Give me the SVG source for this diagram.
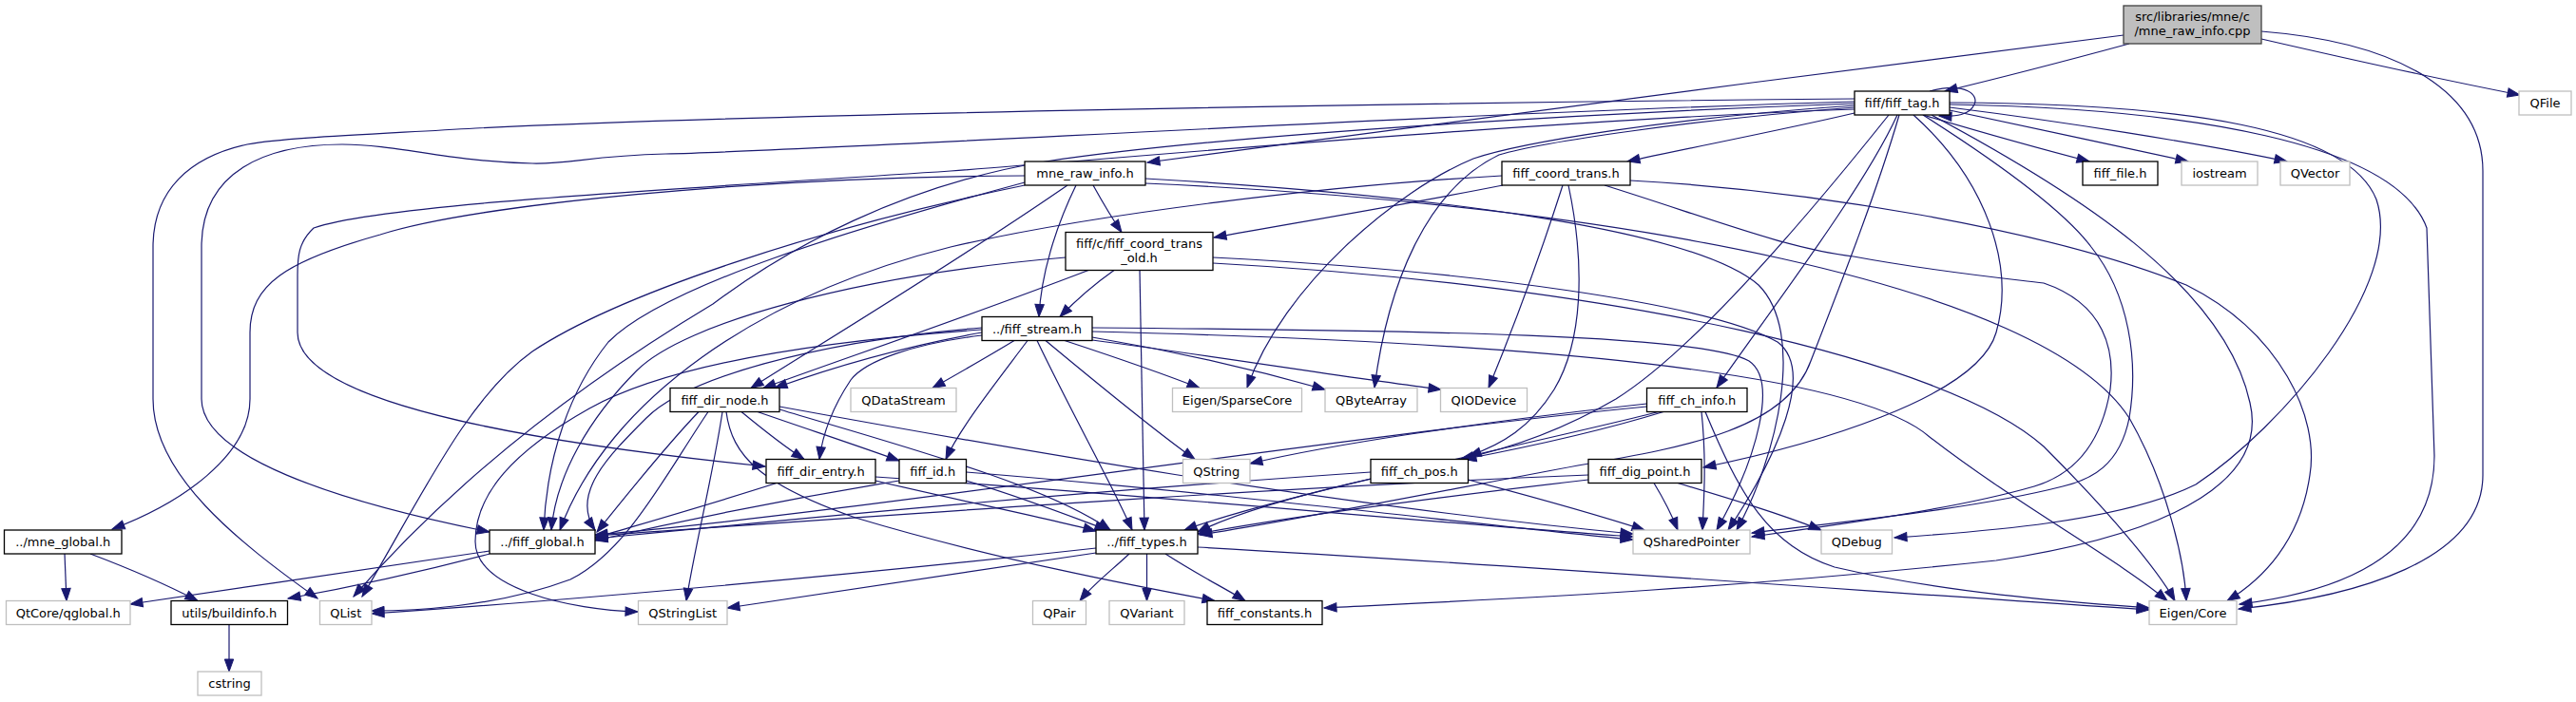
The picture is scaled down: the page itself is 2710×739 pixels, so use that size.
<svg xmlns="http://www.w3.org/2000/svg" width="2710" height="739" viewBox="0 0 2710 739">
<style>
rect{stroke-width:1.3}
.d rect{fill:#fff;stroke:#000}
.x rect{fill:#fff;stroke:#bfbfbf}
.r rect{fill:#bfbfbf;stroke:#404040}
text{font-family:"DejaVu Sans","Liberation Sans",sans-serif;font-size:13px;text-anchor:middle;fill:#000}
#edges path{fill:none;stroke:#191970;stroke-width:1.2;marker-end:url(#a)}
</style>
<defs>
<marker id="a" markerUnits="userSpaceOnUse" markerWidth="15" markerHeight="11" refX="13" refY="5" orient="auto" overflow="visible">
<path d="M0,0.3 L13,5 L0,9.7 z" fill="#191970" stroke="#191970" stroke-width="1"/>
</marker>
</defs>
<rect width="2710" height="739" fill="#fff"/>
<g id="edges">
<path d="M2234,37 C1900,78 1450,140 1207,171"/>
<path d="M2240,46 C2170,65 2100,83 2046,96"/>
<path d="M2379,41 C2470,62 2570,84 2651,100"/>
<path d="M2379,33 C2530,45 2612,100 2612,180 L2612,500 C2612,590 2480,628 2355,641"/>
<path d="M2030,96 C2068,86 2082,100 2077,110 C2072,121 2058,123 2040,122"/>
<path d="M1951,119 C1870,138 1780,155 1712,170"/>
<path d="M2023,121 C2080,138 2140,155 2198,170"/>
<path d="M2051,116 C2130,133 2220,152 2302,170"/>
<path d="M2051,113 C2170,128 2310,150 2406,170"/>
<path d="M1996,121 C1960,200 1860,330 1806,408"/>
<path d="M1987,121 C1900,230 1780,370 1700,420 C1640,455 1580,474 1537,483"/>
<path d="M2013,121 C2090,190 2120,280 2100,350 C2080,420 1900,470 1792,492"/>
<path d="M2023,121 C2100,170 2170,220 2200,260 C2240,310 2250,380 2240,440 C2230,490 2200,505 2170,512 C2080,535 1950,548 1843,561"/>
<path d="M2032,121 C2180,200 2340,300 2367,424 C2385,500 2300,560 2100,590 C1800,622 1550,632 1393,640"/>
<path d="M2051,110 C2300,114 2520,150 2553,240 L2561,480 C2561,580 2470,622 2356,636"/>
<path d="M2051,108 C2300,109 2470,135 2500,210 C2530,300 2400,450 2310,510 C2230,550 2080,560 1993,566"/>
<path d="M1998,121 C1975,200 1940,290 1905,380 C1880,450 1780,470 1660,490 C1500,520 1350,550 1262,563"/>
<path d="M1951,111 C1750,125 1600,150 1550,167 C1470,200 1350,300 1312,408"/>
<path d="M1951,113 C1780,126 1620,150 1577,163 C1500,200 1460,300 1446,408"/>
<path d="M1951,107 C1500,120 900,157 700,162 C620,164 600,173 560,172 C470,170 420,152 360,152 C280,152 212,180 212,260 L212,420 C212,480 350,527 515,560"/>
<path d="M1951,104 C1500,108 800,120 500,135 C380,142 300,145 260,152 C200,165 161,200 161,260 L161,420 C161,500 250,570 334,630"/>
<path d="M1951,115 C1600,128 1200,165 1000,180 C700,200 400,215 330,240 C314,255 313,270 313,290 L313,350 C313,430 600,470 805,491"/>
<path d="M1951,109 C1700,118 1300,140 1100,170 C950,195 830,260 750,320 C650,380 500,480 372,628"/>
<path d="M1078,185 C800,186 500,215 400,247 C300,275 263,300 263,350 L263,420 C263,480 190,530 118,557"/>
<path d="M1150,195 C1160,213 1170,230 1180,244.5"/>
<path d="M1132,195 C1110,240 1095,290 1093,333.5"/>
<path d="M1123,195 C1000,280 850,370 790,408.5"/>
<path d="M1078,195 C860,240 650,310 560,370 C490,420 440,530 381,628"/>
<path d="M1078,192 C900,240 700,300 640,360 C600,410 575,480 572,558"/>
<path d="M1205,188 C1500,205 1780,240 1850,300 C1900,350 1870,480 1827,558"/>
<path d="M1205,193 C1700,215 2150,300 2240,440 C2280,510 2298,590 2300,632.5"/>
<path d="M1121,271 C900,290 720,340 670,390 C620,440 585,500 580,558"/>
<path d="M1145,284.5 C1000,340 880,380 803,408.5"/>
<path d="M1172,284.5 C1150,300 1130,318 1115,333.5"/>
<path d="M1199,284.5 C1200,380 1202,470 1204,558"/>
<path d="M1276,271 C1550,285 1800,320 1870,360 C1910,390 1870,480 1818,558"/>
<path d="M1276,277 C1700,300 2050,380 2150,470 C2220,540 2270,600 2288,632.5"/>
<path d="M1581,195 C1480,215 1360,235 1277,250"/>
<path d="M1580,185 C1400,195 1150,225 1000,260 C800,310 640,420 589,558"/>
<path d="M1644,195 C1620,270 1590,350 1566,408.5"/>
<path d="M1650,195 C1668,280 1665,360 1635,410 C1610,450 1580,468 1545,480"/>
<path d="M1688,195 C1800,230 1880,262 1950,270 C2030,285 2100,292 2150,298 C2215,320 2225,370 2220,410 C2210,470 2180,500 2140,512 C2060,535 1950,550 1843,565"/>
<path d="M1715,190 C1900,200 2150,240 2300,300 C2400,350 2440,440 2430,500 C2420,570 2380,610 2343,632.5"/>
<path d="M1033,350 C950,365 880,385 815,408.5"/>
<path d="M1033,353 C960,362 910,380 895,400 C875,430 865,460 862,483.5"/>
<path d="M1081,358.5 C1050,400 1010,450 995,483.5"/>
<path d="M1067,358.5 C1040,375 1010,392 981,408.5"/>
<path d="M1100,358.5 C1150,400 1210,450 1257,483.5"/>
<path d="M1091,358.5 C1130,440 1170,510 1191,558"/>
<path d="M1120,358.5 C1170,375 1220,392 1262,408.5"/>
<path d="M1149,355 C1250,372 1330,392 1394,410"/>
<path d="M1149,358 C1300,378 1420,398 1516,410"/>
<path d="M1149,345 C1500,348 1790,352 1840,380 C1870,400 1850,480 1806,558"/>
<path d="M1149,349 C1600,360 1950,390 2030,460 C2120,530 2230,590 2280,632.5"/>
<path d="M1033,345 C850,360 720,400 680,440 C640,480 600,520 626,558"/>
<path d="M1033,347 C850,360 700,385 620,430 C540,475 500,520 500,570 C500,620 600,642 671,644"/>
<path d="M735,433.5 C700,470 660,520 628,560"/>
<path d="M745,433.5 C700,500 660,580 600,610 C520,640 430,643 391,643"/>
<path d="M760,433.5 C750,500 730,580 722,632.5"/>
<path d="M764,433.5 C770,480 800,510 900,545 C1050,590 1200,618 1278,632.5"/>
<path d="M780,433.5 C800,450 822,468 846,483.5"/>
<path d="M797,433.5 C850,452 905,470 946,485"/>
<path d="M820,431 C950,470 1100,510 1168,558"/>
<path d="M820,428 C1050,470 1400,532 1718,562"/>
<path d="M817,508.5 C750,530 680,550 626,566"/>
<path d="M921,506 C1000,525 1100,545 1153,559"/>
<path d="M921,502 C1200,520 1500,550 1718,565"/>
<path d="M946,506 C800,530 700,552 626,569"/>
<path d="M1016.5,506 C1080,525 1130,545 1165,558"/>
<path d="M1016.5,497 C1300,520 1550,552 1718,568"/>
<path d="M1732.5,425 C1550,445 1400,468 1315,488"/>
<path d="M1732.5,428 C1400,460 900,540 626,563"/>
<path d="M1750,433.5 C1680,455 1600,472 1540,483.5"/>
<path d="M1745,433.5 C1600,470 1350,520 1246,558"/>
<path d="M1790,433.5 C1795,480 1793,520 1791,558"/>
<path d="M1794,433.5 C1830,520 1860,575 1930,597 C2050,625 2180,634 2261,640"/>
<path d="M1442,497 C1100,520 800,550 626,567"/>
<path d="M1442,504 C1350,525 1290,545 1260,560"/>
<path d="M1544.5,505 C1620,525 1690,545 1730,558"/>
<path d="M1671,500 C1300,515 900,545 626,564"/>
<path d="M1671,505 C1500,525 1350,545 1260,562"/>
<path d="M1740,508.5 C1750,525 1758,540 1765,558"/>
<path d="M1765,508.5 C1820,525 1870,540 1916,558"/>
<path d="M1153,577 C900,605 600,632 391,646"/>
<path d="M1153,582 C1000,605 850,628 765,640"/>
<path d="M1188,583 C1170,600 1150,615 1136,632.5"/>
<path d="M1206.5,583 L1206.5,632.5"/>
<path d="M1226,583 C1260,605 1290,620 1310,632.5"/>
<path d="M1260,576 C1600,595 2000,625 2261,642"/>
<path d="M515,580 C400,597 260,618 137,636"/>
<path d="M515,583 C450,600 370,618 303,630"/>
<path d="M68,583 L70,632.5"/>
<path d="M95,583 C140,600 180,618 208,632.5"/>
<path d="M241,657.5 L241,707"/>
</g>
<g id="node-root" class="r"><rect x="2234" y="6" width="145" height="40"/><text x="2306.5" y="22">src/libraries/mne/c</text><text x="2306.5" y="37">/mne_raw_info.cpp</text></g>
<g id="node-fiff_tag" class="d"><rect x="1951" y="96" width="100" height="25"/><text x="2001" y="113">fiff/fiff_tag.h</text></g>
<g id="node-QFile" class="x"><rect x="2650" y="96" width="55" height="25"/><text x="2677.5" y="113">QFile</text></g>
<g id="node-mne_raw_info" class="d"><rect x="1078" y="170" width="127" height="25"/><text x="1141.5" y="187">mne_raw_info.h</text></g>
<g id="node-fiff_coord_trans" class="d"><rect x="1580" y="170" width="135" height="25"/><text x="1647.5" y="187">fiff_coord_trans.h</text></g>
<g id="node-fiff_file" class="d"><rect x="2191" y="170" width="79" height="25"/><text x="2230.5" y="187">fiff_file.h</text></g>
<g id="node-iostream" class="x"><rect x="2295" y="170" width="80" height="25"/><text x="2335" y="187">iostream</text></g>
<g id="node-QVector" class="x"><rect x="2399" y="170" width="73" height="25"/><text x="2435.5" y="187">QVector</text></g>
<g id="node-fiff_coord_trans_old" class="d"><rect x="1121" y="244.5" width="155" height="40"/><text x="1198.5" y="261">fiff/c/fiff_coord_trans</text><text x="1198.5" y="276">_old.h</text></g>
<g id="node-fiff_stream" class="d"><rect x="1033" y="333.5" width="116" height="25"/><text x="1091" y="350.5">../fiff_stream.h</text></g>
<g id="node-fiff_dir_node" class="d"><rect x="705" y="408.5" width="115" height="25"/><text x="762.5" y="425.5">fiff_dir_node.h</text></g>
<g id="node-QDataStream" class="x"><rect x="895" y="408.5" width="111" height="25"/><text x="950.5" y="425.5">QDataStream</text></g>
<g id="node-Eigen_SparseCore" class="x"><rect x="1233.5" y="408.5" width="136" height="25"/><text x="1301.5" y="425.5">Eigen/SparseCore</text></g>
<g id="node-QByteArray" class="x"><rect x="1394" y="408.5" width="97" height="25"/><text x="1442.5" y="425.5">QByteArray</text></g>
<g id="node-QIODevice" class="x"><rect x="1515.5" y="408.5" width="91" height="25"/><text x="1561" y="425.5">QIODevice</text></g>
<g id="node-fiff_ch_info" class="d"><rect x="1732.5" y="408.5" width="105.5" height="25"/><text x="1785.25" y="425.5">fiff_ch_info.h</text></g>
<g id="node-fiff_dir_entry" class="d"><rect x="806" y="483.5" width="115" height="25"/><text x="863.5" y="500.5">fiff_dir_entry.h</text></g>
<g id="node-fiff_id" class="d"><rect x="946" y="483.5" width="70.5" height="25"/><text x="981.25" y="500.5">fiff_id.h</text></g>
<g id="node-QString" class="x"><rect x="1244.5" y="483.5" width="70.5" height="25"/><text x="1279.75" y="500.5">QString</text></g>
<g id="node-fiff_ch_pos" class="d"><rect x="1442" y="483.5" width="102.5" height="25"/><text x="1493.25" y="500.5">fiff_ch_pos.h</text></g>
<g id="node-fiff_dig_point" class="d"><rect x="1671" y="483.5" width="119" height="25"/><text x="1730.5" y="500.5">fiff_dig_point.h</text></g>
<g id="node-mne_global" class="d"><rect x="4.5" y="558" width="123.5" height="25"/><text x="66.25" y="575">../mne_global.h</text></g>
<g id="node-fiff_global" class="d"><rect x="515" y="558" width="111" height="25"/><text x="570.5" y="575">../fiff_global.h</text></g>
<g id="node-fiff_types" class="d"><rect x="1153" y="558" width="107" height="25"/><text x="1206.5" y="575">../fiff_types.h</text></g>
<g id="node-QSharedPointer" class="x"><rect x="1718" y="558" width="123" height="25"/><text x="1779.5" y="575">QSharedPointer</text></g>
<g id="node-QDebug" class="x"><rect x="1916" y="558" width="74.5" height="25"/><text x="1953.25" y="575">QDebug</text></g>
<g id="node-QtCore_qglobal" class="x"><rect x="6.5" y="632.5" width="130.5" height="25"/><text x="71.75" y="649.5">QtCore/qglobal.h</text></g>
<g id="node-buildinfo" class="d"><rect x="180" y="632.5" width="122.5" height="25"/><text x="241.25" y="649.5">utils/buildinfo.h</text></g>
<g id="node-QList" class="x"><rect x="336.5" y="632.5" width="54.5" height="25"/><text x="363.75" y="649.5">QList</text></g>
<g id="node-QStringList" class="x"><rect x="671.5" y="632.5" width="93.5" height="25"/><text x="718.25" y="649.5">QStringList</text></g>
<g id="node-QPair" class="x"><rect x="1086.5" y="632.5" width="56" height="25"/><text x="1114.5" y="649.5">QPair</text></g>
<g id="node-QVariant" class="x"><rect x="1167" y="632.5" width="79" height="25"/><text x="1206.5" y="649.5">QVariant</text></g>
<g id="node-fiff_constants" class="d"><rect x="1270" y="632.5" width="121" height="25"/><text x="1330.5" y="649.5">fiff_constants.h</text></g>
<g id="node-Eigen_Core" class="x"><rect x="2261" y="632.5" width="92" height="25"/><text x="2307" y="649.5">Eigen/Core</text></g>
<g id="node-cstring" class="x"><rect x="208" y="707" width="67" height="25"/><text x="241.5" y="724">cstring</text></g>
</svg>
